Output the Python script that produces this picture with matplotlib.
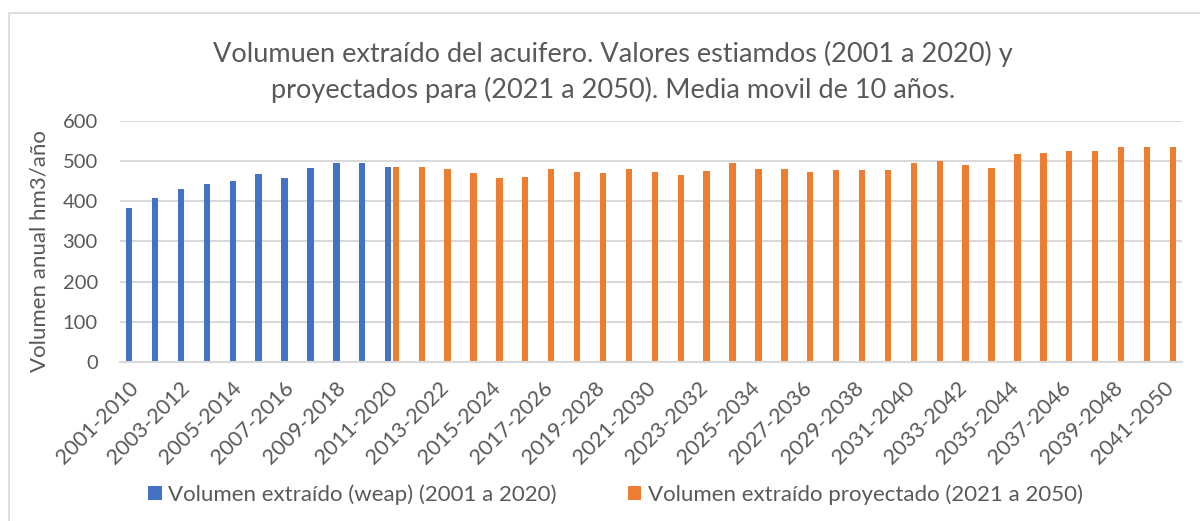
import matplotlib.pyplot as plt
import matplotlib.transforms as mtransforms
import numpy as np
from matplotlib.patches import Rectangle

plt.rcParams['font.family'] = ['Lato', 'DejaVu Sans']

# periodos de 10 años (media movil)
periodos = ["2001-2010", "2002-2011", "2003-2012", "2004-2013", "2005-2014",
            "2006-2015", "2007-2016", "2008-2017", "2009-2018", "2010-2019",
            "2011-2020", "2012-2021", "2013-2022", "2014-2023", "2015-2024",
            "2016-2025", "2017-2026", "2018-2027", "2019-2028", "2020-2029",
            "2021-2030", "2022-2031", "2023-2032", "2024-2033", "2025-2034",
            "2026-2035", "2027-2036", "2028-2037", "2029-2038", "2030-2039",
            "2031-2040", "2032-2041", "2033-2042", "2034-2043", "2035-2044",
            "2036-2045", "2037-2046", "2038-2047", "2039-2048", "2040-2049",
            "2041-2050"]

# volumen extraido estimado con weap, hm3/año (2001-2010 a 2011-2020)
vol_weap = [384, 408, 431, 442, 450, 468, 459, 483, 495, 494, 486]

# volumen proyectado, hm3/año (2011-2020 a 2041-2050)
vol_proy = [486, 486, 480, 470, 457, 460, 480, 472, 470, 480,
            472, 465, 476, 495, 480, 480, 474, 477, 479, 477,
            495, 501, 490, 484, 517, 521, 525, 524, 534, 535,
            535]

azul = "#4472C4"
naranja = "#ED7D31"
gris = "#595959"
rejilla = "#D9D9D9"

fig = plt.figure(figsize=(12, 5.21), dpi=100)
ax = fig.add_axes([0.1, 0.305, 0.885, 0.463])

x = np.arange(len(periodos))
ancho = 0.245
desp = 0.148
x_weap = x[:len(vol_weap)]
x_proy = x[len(periodos) - len(vol_proy):]

ax.bar(x_weap - desp, vol_weap, width=ancho, color=azul,
       label="Volumen extraído (weap) (2001 a 2020)")
ax.bar(x_proy + desp, vol_proy, width=ancho, color=naranja,
       label="Volumen extraído proyectado (2021 a 2050)")

ax.set_xlim(-0.5, len(periodos) - 0.5)
ax.set_ylim(0, 600)
ax.set_yticks(np.arange(0, 601, 100))
ax.yaxis.grid(True, color=rejilla, linewidth=1.5)
ax.set_axisbelow(True)
for s in ["top", "right", "left"]:
    ax.spines[s].set_visible(False)
ax.spines["bottom"].set_color(rejilla)
ax.spines["bottom"].set_linewidth(1.5)

# etiqueta cada dos periodos
ax.set_xticks(x[::2])
ax.set_xticklabels(periodos[::2], rotation=45, ha="right", va="center",
                   rotation_mode="anchor", fontsize=15.5, color=gris)
ax.tick_params(axis="x", length=0, pad=15)
ax.tick_params(axis="y", length=0, pad=16, labelsize=14.5, labelcolor=gris)
# corre las etiquetas un poco a la derecha
despl = mtransforms.ScaledTranslation(0.02, -0.02, fig.dpi_scale_trans)
for lab in ax.get_xticklabels():
    lab.set_transform(lab.get_transform() + despl)

ax.set_ylabel("Volumen anual hm3/año", fontsize=16, color=gris)
ax.yaxis.set_label_coords(-0.066, 0.46)

fig.text(0.511, 0.862,
         "Volumuen extraído del acuifero. Valores estiamdos (2001 a 2020) y\n"
         "proyectados para (2021 a 2050). Media movil de 10 años.",
         ha="center", va="center", fontsize=19.5, color=gris, linespacing=1.45)

ley = fig.legend(loc="center", bbox_to_anchor=(0.513, 0.05), ncol=2,
                 frameon=False, fontsize=16, handlelength=0.6,
                 handleheight=0.6, handletextpad=0.3, columnspacing=3.2)
for t in ley.get_texts():
    t.set_color(gris)

# marco del grafico
marco = Rectangle((9 / 1200, -0.1), 1.2, 1.1 - 13 / 521, transform=fig.transFigure,
                  fill=False, edgecolor=rejilla, linewidth=1.2)
fig.patches.append(marco)

fig.savefig("out.png", dpi=100)
